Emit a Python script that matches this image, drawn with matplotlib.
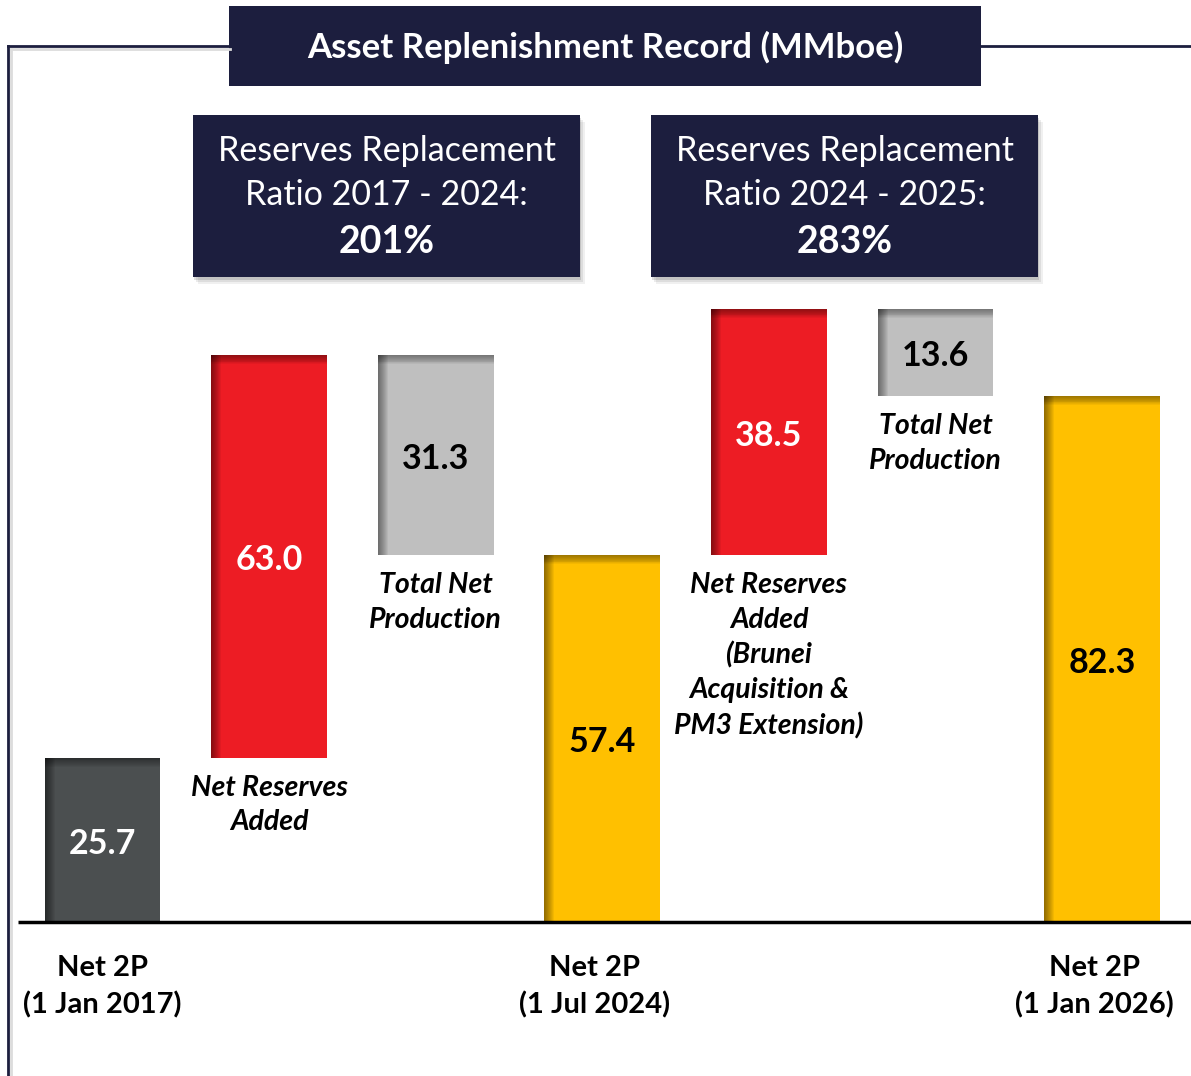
import matplotlib
matplotlib.use("Agg")
import matplotlib.pyplot as plt
from matplotlib.patches import Rectangle
from matplotlib.lines import Line2D

plt.rcParams['font.family'] = ['Lato', 'DejaVu Sans']

# ---------------- data ----------------
categories = ["Net 2P\n(1 Jan 2017)", "Net Reserves\nAdded", "Total Net\nProduction",
              "Net 2P\n(1 Jul 2024)",
              "Net Reserves\nAdded\n(Brunei\nAcquisition &\nPM3 Extension)",
              "Total Net\nProduction", "Net 2P\n(1 Jan 2026)"]
values = [25.7, 63.0, 31.3, 57.4, 38.5, 13.6, 82.3]
kinds = ["total", "add", "sub", "total", "add", "sub", "total"]
value_labels = ["25.7", "63.0", "31.3", "57.4", "38.5", "13.6", "82.3"]
title = "Asset Replenishment Record (MMboe)"
ratio_texts = ["Reserves Replacement\nRatio 2017 - 2024:", "Reserves Replacement\nRatio 2024 - 2025:"]
ratio_values = ["201%", "283%"]

# ---------------- style ----------------
NAVY = "#1c1e3e"
colors = ["#4b4f50", "#ed1c24", "#bfbfbf", "#ffc000", "#ed1c24", "#bfbfbf", "#ffc000"]
label_colors = ["white", "white", "black", "black", "white", "black", "black"]
total_label_shift = [0.0, 0, 0, -0.045, 0, 0, -0.048]

W, H = 1191, 1076
fig = plt.figure(figsize=(W / 100, H / 100), dpi=100)
ax = fig.add_axes([0, 0, 1, 1])
PX_X = 166.6
PX_Y = 6.39
x0_px, base_px = 102.5, 922
ax.set_xlim(-x0_px / PX_X, (W - x0_px) / PX_X)
ax.set_ylim(-(H - base_px) / PX_Y, base_px / PX_Y)
ax.axis("off")

# waterfall bottoms
bottoms = []
level = 0.0
for v, k in zip(values, kinds):
    if k == "total":
        bottoms.append(0.0)
        level = v
    elif k == "add":
        bottoms.append(level)
        level = level + v
    else:
        level = level - v
        bottoms.append(level)

bw = 0.696
xs = list(range(len(values)))
ax.bar(xs, values, bottom=bottoms, width=bw, color=colors, zorder=2)

# inner shadow on left and top edges
nsh = 10
for i, (x, b, v) in enumerate(zip(xs, bottoms, values)):
    left = x - bw / 2
    for j in range(nsh):
        w = (nsh - j) * 1.0 / PX_X
        ax.bar(left, v, bottom=b, width=w, align="edge", color="black",
               alpha=0.05, linewidth=0, zorder=3)
        h = (nsh - j) * 0.9 / PX_Y
        ax.bar(left, h, bottom=b + v - h, width=bw, align="edge", color="black",
               alpha=0.045, linewidth=0, zorder=3)

# value labels
for x, b, v, t, c in zip(xs, bottoms, values, value_labels, label_colors):
    ax.text(x, b + v / 2 - 0.6, t, ha="center", va="center", fontsize=24.5,
            fontweight="bold", color=c, zorder=5)

# category labels
for x, b, cat, k, sh in zip(xs, bottoms, categories, kinds, total_label_shift):
    if k == "total":
        ax.text(x + sh, -5.2, cat, ha="center", va="top", fontsize=21,
                fontweight="bold", color="black", linespacing=1.46)
    else:
        ax.text(x, b - 2.7, cat, ha="center", va="top", fontsize=20.5,
                fontweight="bold", style="italic", color="black", linespacing=1.4)

# baseline
ax.plot([-x0_px / PX_X + 18 / PX_X, (W - x0_px) / PX_X], [0, 0], color="black",
        lw=2.5, zorder=4, solid_capstyle="butt")

# ---------------- decorations in pixel space ----------------
def fx(p):
    return p / W

def fy(p):
    return 1 - p / H

# frame lines
fig.add_artist(Line2D([fx(8), fx(8)], [fy(46), fy(1076)], color=NAVY, lw=2))
fig.add_artist(Line2D([fx(8), fx(230)], [fy(46), fy(46)], color=NAVY, lw=2))
fig.add_artist(Line2D([fx(980), fx(1191)], [fy(46), fy(46)], color=NAVY, lw=2))
fig.add_artist(Line2D([fx(11), fx(11)], [fy(49), fy(1076)], color="#dcdcdc", lw=2))
fig.add_artist(Line2D([fx(11), fx(230)], [fy(49), fy(49)], color="#dcdcdc", lw=2))

# title box
fig.add_artist(Rectangle((fx(229), fy(86)), fx(981) - fx(229), fy(6) - fy(86),
                         facecolor=NAVY, edgecolor="none", transform=fig.transFigure))
fig.text(fx(605), fy(47), title, ha="center", va="center", fontsize=25,
         fontweight="bold", color="white")

# ratio boxes
for (l, r), txt, val in zip([(193, 580), (651, 1038)], ratio_texts, ratio_values):
    for s, a in [(7, 0.06), (5, 0.08), (3, 0.12)]:
        fig.add_artist(Rectangle((fx(l + s - 2), fy(277 + s)), fx(r) - fx(l), fy(115) - fy(277),
                                 facecolor="black", alpha=a, edgecolor="none",
                                 transform=fig.transFigure))
    fig.add_artist(Rectangle((fx(l), fy(277)), fx(r) - fx(l), fy(115) - fy(277),
                             facecolor=NAVY, edgecolor="none", transform=fig.transFigure))
    cx = fx((l + r) / 2)
    fig.text(cx, fy(173), txt, ha="center", va="center", fontsize=24.5,
             color="white", linespacing=1.45)
    fig.text(cx, fy(242), val, ha="center", va="center", fontsize=27,
             fontweight="bold", color="white")

fig.savefig("out.png", dpi=100, facecolor="white")
